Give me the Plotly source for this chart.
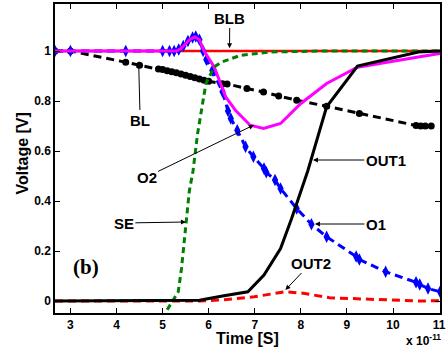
import plotly.graph_objects as go

# ---- data (time in units of 1e-11 s, voltage in V) ----
t_blb = [2.665, 11.02]
v_blb = [1.0, 1.0]

t_bl = [2.665, 3.0, 4.2, 4.5, 4.91, 5.0, 5.1, 5.2, 5.3, 5.4, 5.5, 5.6, 5.7, 5.8, 5.9, 6.0,
        6.3, 6.4, 6.83, 7.19, 7.52, 7.91, 8.56, 9.27, 10.5, 10.6, 10.7, 10.83]
v_bl = [1.0, 1.0, 0.955, 0.943, 0.928, 0.926, 0.921, 0.917, 0.913, 0.908, 0.903, 0.898, 0.893,
        0.888, 0.883, 0.879, 0.869, 0.868, 0.85, 0.836, 0.82, 0.803, 0.779, 0.75, 0.702, 0.70, 0.70, 0.70]

t_o1 = [2.665, 3.0, 4.2, 5.0, 5.15, 5.25, 5.35, 5.45, 5.55, 5.65, 5.72, 5.8, 5.88, 5.95, 6.08,
        6.3, 6.42, 6.48, 6.62, 6.8, 6.97, 7.2, 7.25, 7.44, 7.56, 7.91, 8.23, 8.56, 9.2, 9.27,
        9.84, 10.5, 10.58, 10.76, 11.02]
v_o1 = [1.0, 1.0, 1.0, 1.0, 1.0, 1.0, 1.006, 1.02, 1.04, 1.054, 1.058, 1.045, 1.0, 0.965, 0.922,
        0.837, 0.76, 0.73, 0.683, 0.617, 0.577, 0.53, 0.515, 0.484, 0.45, 0.37, 0.307, 0.257, 0.178, 0.166,
        0.117, 0.075, 0.066, 0.05, 0.037]

t_o2 = [2.665, 5.3, 5.4, 5.5, 5.6, 5.7, 5.8, 5.9, 6.12, 6.37, 6.58, 6.9, 7.19, 7.56, 8.0, 8.56,
        9.23, 10.55, 11.02]
v_o2 = [1.0, 1.0, 1.01, 1.03, 1.048, 1.056, 1.045, 1.0, 0.936, 0.816, 0.763, 0.703, 0.69, 0.71,
        0.79, 0.87, 0.935, 0.976, 0.99]

t_se = [5.1, 5.34, 5.41, 5.51, 5.58, 5.66, 5.76, 5.94, 6.12, 6.28, 6.7, 7.34, 8.5, 11.02]
v_se = [-0.035, 0.037, 0.13, 0.30, 0.44, 0.52, 0.67, 0.87, 0.936, 0.956, 0.983, 0.996, 1.0, 1.0]

t_out1 = [2.665, 5.3, 5.8, 6.3, 6.85, 7.2, 7.56, 7.8, 8.0, 8.15, 8.56, 9.23, 10.55, 11.02]
v_out1 = [0.0, 0.0, 0.003, 0.02, 0.037, 0.104, 0.21, 0.33, 0.44, 0.52, 0.777, 0.94, 0.996, 1.0]

t_out2 = [2.665, 5.8, 6.28, 6.99, 7.66, 8.05, 8.62, 9.48, 10.55, 11.02]
v_out2 = [0.0, 0.0, 0.004, 0.017, 0.037, 0.031, 0.013, 0.008, 0.0, 0.001]

x_ticks = [3, 4, 5, 6, 7, 8, 9, 10, 11]
y_ticks = [0, 0.2, 0.4, 0.6, 0.8, 1]
y_ticklabels = ["0", "0.2", "0.4", "0.6", "0.8", "1"]

# annotations: (label, text x, text y, tip x, tip y)
labels = [
    ("BLB", 6.457, 1.132, 6.453, 1.011),
    ("BL", 4.513, 0.724, 4.481, 0.952),
    ("O2", 4.652, 0.496, 6.981, 0.704),
    ("SE", 4.16, 0.312, 5.506, 0.316),
    ("OUT1", 9.844, 0.564, 8.263, 0.564),
    ("O1", 9.63, 0.308, 8.306, 0.308),
    ("OUT2", 8.22, 0.152, 7.665, 0.044),
]

fig = go.Figure()
fig.add_trace(go.Scatter(x=t_blb, y=v_blb, mode="lines", line=dict(color="#ff0000", width=2.5)))
fig.add_trace(go.Scatter(x=t_bl, y=v_bl, mode="lines+markers",
                         line=dict(color="black", width=3, dash="8px,5px"),
                         marker=dict(symbol="circle", size=7, color="black")))
fig.add_trace(go.Scatter(x=t_o1, y=v_o1, mode="lines+markers",
                         line=dict(color="#0000ff", width=3, dash="8px,5px"),
                         marker=dict(symbol="diamond-tall", size=9, color="#0000ff")))
fig.add_trace(go.Scatter(x=t_o2, y=v_o2, mode="lines", line=dict(color="#ff00ff", width=3)))
fig.add_trace(go.Scatter(x=t_se, y=v_se, mode="lines",
                         line=dict(color="#008000", width=3, dash="6px,4px")))
fig.add_trace(go.Scatter(x=t_out2, y=v_out2, mode="lines",
                         line=dict(color="#ff0000", width=3, dash="8px,5px")))
fig.add_trace(go.Scatter(x=t_out1, y=v_out1, mode="lines", line=dict(color="black", width=3)))

font_main = "Liberation Sans, Arial, sans-serif"
annots = []
for lab, tx, ty, px, py in labels:
    annots.append(dict(x=px, y=py, ax=tx, ay=ty, xref="x", yref="y", axref="x", ayref="y",
                       text="<b>%s</b>" % lab, showarrow=True, arrowhead=2, arrowsize=1,
                       arrowwidth=1, arrowcolor="black",
                       font=dict(family=font_main, size=15, color="black")))
annots.append(dict(x=3.329, y=0.136, xref="x", yref="y", text="<b>(b)</b>", showarrow=False,
                   font=dict(family="Liberation Serif, Times New Roman, serif", size=21, color="black")))
annots.append(dict(x=0, y=0.5, xref="paper", yref="paper", xanchor="center", yanchor="middle",
                   xshift=-33, yshift=5, textangle=-90, text="<b>Voltage [V]</b>", showarrow=False,
                   font=dict(family=font_main, size=16, color="black")))
annots.append(dict(x=0.5, y=0, xref="paper", yref="paper", xanchor="center", yanchor="middle",
                   yshift=-25, text="<b>Time [S]</b>", showarrow=False,
                   font=dict(family=font_main, size=16, color="black")))
annots.append(dict(x=1, y=0, xref="paper", yref="paper", xanchor="right", yanchor="middle",
                   xshift=3, yshift=-27, text="<b>x 10<sup>-11</sup></b>", showarrow=False,
                   font=dict(family=font_main, size=12, color="black")))

axis_common = dict(showgrid=False, zeroline=False, showline=True, linecolor="black", linewidth=1.5,
                   mirror="ticks", ticks="inside", ticklen=5, tickwidth=1, tickcolor="black",
                   ticklabeloverflow="allow",
                   tickfont=dict(family=font_main, size=12, color="black", weight="bold"))

fig.update_layout(
    width=448, height=350,
    margin=dict(l=55, r=2, t=4, b=37),
    paper_bgcolor="white", plot_bgcolor="white",
    showlegend=False,
    xaxis=dict(range=[2.665, 11.02], tickvals=x_ticks, ticktext=[str(v) for v in x_ticks], **axis_common),
    yaxis=dict(range=[-0.048, 1.188], tickvals=y_ticks, ticktext=y_ticklabels, **axis_common),
    annotations=annots,
)

fig.write_html("out.html", config={"displayModeBar": False},
               post_script="document.body.style.margin='0';document.body.style.padding='0';")
